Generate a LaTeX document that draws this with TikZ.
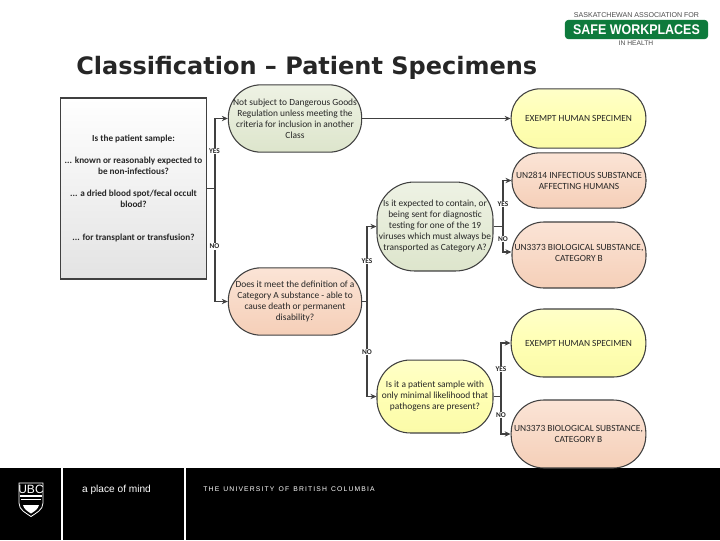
\documentclass[tikz,border=0pt]{standalone}
\usepackage{fontspec}
\usepackage{graphicx}
\setmainfont{Carlito}
\newfontfamily\titlefont{DejaVu Sans}
\newfontfamily\logofont{Liberation Sans}
\usetikzlibrary{arrows.meta,shadings}
\definecolor{linecol}{HTML}{404040}
\tikzset{
 x=0.75pt,y=-0.75pt,
 pill/.style={draw=linecol,line width=0.8pt,align=center,inner sep=0pt,text=black!85,font=\fontsize{7.05}{8.25}\selectfont},
 yellowpill/.style={pill,top color=yellowtop,bottom color=yellowbot,middle color=yellowmid},
 orangepill/.style={pill,top color=orangetop,bottom color=orangebot},
 greenpill/.style={pill,top color=greentop,bottom color=greenbot},
 conn/.style={draw=linecol,line width=0.9pt},
 arr/.style={conn,-{Stealth[length=4.5pt,width=4pt]}},
 lab/.style={fill=white,inner sep=0.6pt,font=\fontsize{5.5}{6}\selectfont\bfseries,text=black!85},
 bandtext/.style={text=white,inner sep=0pt},
}
\definecolor{yellowtop}{HTML}{FFFFC8}
\definecolor{yellowmid}{HTML}{FFFFB4}
\definecolor{yellowbot}{HTML}{FBFBA8}
\definecolor{orangetop}{HTML}{FBE4D6}
\definecolor{orangebot}{HTML}{F5CFB8}
\definecolor{greentop}{HTML}{EEF2E4}
\definecolor{greenbot}{HTML}{DDE5CC}
\definecolor{logogreen}{HTML}{0E7A3C}
\begin{document}
\begin{tikzpicture}
\useasboundingbox (0,0) rectangle (720,540);
\fill[white] (0,0) rectangle (720,540);
% title
\node[anchor=base west,inner sep=0pt,font=\fontsize{18}{20}\titlefont\bfseries,text=black!85] (title) at (76,74) {Classification – Patient Specimens};
% logo
\node[anchor=center,inner sep=0pt,font=\fontsize{5.3}{6}\logofont,text=black!70] (logotop) at (636.5,15.5) {SASKATCHEWAN ASSOCIATION FOR};
\node[draw=logogreen,fill=logogreen,rounded corners=2.5pt,minimum width=107pt,minimum height=14pt,inner sep=0pt,text=white,font=\fontsize{10.5}{12}\logofont\bfseries] (logomain) at (636.5,29.5) {\scalebox{0.89}[1]{SAFE WORKPLACES}};
\node[anchor=center,inner sep=0pt,font=\fontsize{5}{6}\logofont,text=black!70] (logobot) at (636,43) {IN HEALTH};
% band
\fill[black] (0,468) rectangle (720,540);
\fill[white] (61,468) rectangle (62.5,540);
\fill[white] (183.5,468) rectangle (185.5,540);
% UBC crest
\draw[white,line width=0.6pt] (19,483) -- (43,483) -- (43,503) .. controls (43,510) and (36,513) .. (31,516.5) .. controls (26,513) and (19,510) .. (19,503) -- cycle;
\node[bandtext,font=\fontsize{9}{9}\logofont] (ubc) at (31,489) {UBC};
\fill[white] (20,495) rectangle (42,496.5);
\fill[white] (21,499) rectangle (41,500);
\fill[white] (31,513.5) .. controls (27,511) and (24,509) .. (23,505) -- (39,505) .. controls (38,509) and (35,511) .. (31,513.5) -- cycle;
\fill[white] (25,505) arc[start angle=180,end angle=0,radius=6];
\node[bandtext,font=\fontsize{7.6}{9}\logofont,anchor=center] (mind) at (116.5,489.5) {a place of mind};
\node[bandtext,font=\fontsize{5.1}{6}\logofont,anchor=center] (ubcname) at (289,489) {T\,H\,E\, \,U\,N\,I\,V\,E\,R\,S\,I\,T\,Y\, \,O\,F\, \,B\,R\,I\,T\,I\,S\,H\, \,C\,O\,L\,U\,M\,B\,I\,A};
% nodes
\node[pill,top color=white,bottom color=black!11,line width=0.85pt,minimum width=110pt,minimum height=135.7pt,font=\fontsize{6.9}{8.25}\selectfont\bfseries] (q) at (133.5,188.5) {Is the patient sample:\\[8.25pt]... known or reasonably expected to\\be non-infectious?\\[8.25pt]... a dried blood spot/fecal occult\\blood?\\[16.5pt]... for transplant or transfusion?};
\node[greenpill,rounded corners=24.5pt,minimum width=100pt,minimum height=50.5pt] (ndg) at (295,118.5) {\raisebox{-1.5pt}{\parbox{100pt}{\centering Not subject to Dangerous Goods\\Regulation unless meeting the\\criteria for inclusion in another\\Class}}};
\node[orangepill,rounded corners=24.5pt,minimum width=100pt,minimum height=50.5pt] (cata) at (295,301.5) {Does it meet the definition of a\\Category A substance - able to\\cause death or permanent\\disability?};
\node[yellowpill,rounded corners=21.5pt,minimum width=101pt,minimum height=44.5pt] (ex1) at (578.5,118.5) {EXEMPT HUMAN SPECIMEN};
\node[orangepill,rounded corners=20pt,minimum width=100.5pt,minimum height=41.5pt] (un2814) at (579,180.5) {UN2814 INFECTIOUS SUBSTANCE\\AFFECTING HUMANS};
\node[orangepill,rounded corners=24pt,minimum width=100.5pt,minimum height=49.5pt] (un1) at (579,255) {UN3373 BIOLOGICAL SUBSTANCE,\\CATEGORY B\\[-5.25pt]\mbox{}};
\node[greenpill,rounded corners=28pt,minimum width=87pt,minimum height=66.7pt] (viral) at (435,226.5) {Is it expected to contain, or\\being sent for diagnostic\\testing for one of the 19\\viruses which must always be\\transported as Category A?};
\node[yellowpill,rounded corners=24.5pt,minimum width=101pt,minimum height=51pt] (ex2) at (578.5,343) {EXEMPT HUMAN SPECIMEN};
\node[yellowpill,rounded corners=25pt,minimum width=87pt,minimum height=54.7pt] (pat) at (435,396.5) {Is it a patient sample with\\only minimal likelihood that\\pathogens are present?};
\node[orangepill,rounded corners=24.5pt,minimum width=101pt,minimum height=51pt] (un2) at (578.5,434) {UN3373 BIOLOGICAL SUBSTANCE,\\CATEGORY B};
% junctions
\coordinate (j1) at (215,188.5);
\coordinate (j2) at (367,301.5);
\coordinate (j3) at (503,226.5);
\coordinate (j4) at (501,396.5);
% connectors
\draw[conn] (q.east) -- (j1);
\draw[arr] (j1) |- (ndg.west);
\draw[arr] (j1) |- (cata.west);
\draw[arr] (ndg.east) -- (ex1.west);
\draw[conn] (cata.east) -- (j2);
\draw[arr] (j2) |- (viral.west);
\draw[arr] (j2) |- (pat.west);
\draw[conn,line width=1.3pt] (viral.east) -- (j3);
\draw[arr] (j3) |- (un2814.west);
\draw[arr] (j3) |- ([yshift=2.25pt]un1.west);
\draw[conn] (pat.east) -- (j4);
\draw[arr] (j4) |- (ex2.west);
\draw[arr] (j4) |- (un2.west);
% labels
\node[lab] (l1) at (214.5,151) {YES};
\node[lab] (l2) at (214.5,246.5) {NO};
\node[lab] (l3) at (367,261) {YES};
\node[lab] (l4) at (367,352) {NO};
\node[lab] (l5) at (503,204) {YES};
\node[lab] (l6) at (503,239) {NO};
\node[lab] (l7) at (501,369) {YES};
\node[lab] (l8) at (501,415) {NO};
\end{tikzpicture}
\end{document}
